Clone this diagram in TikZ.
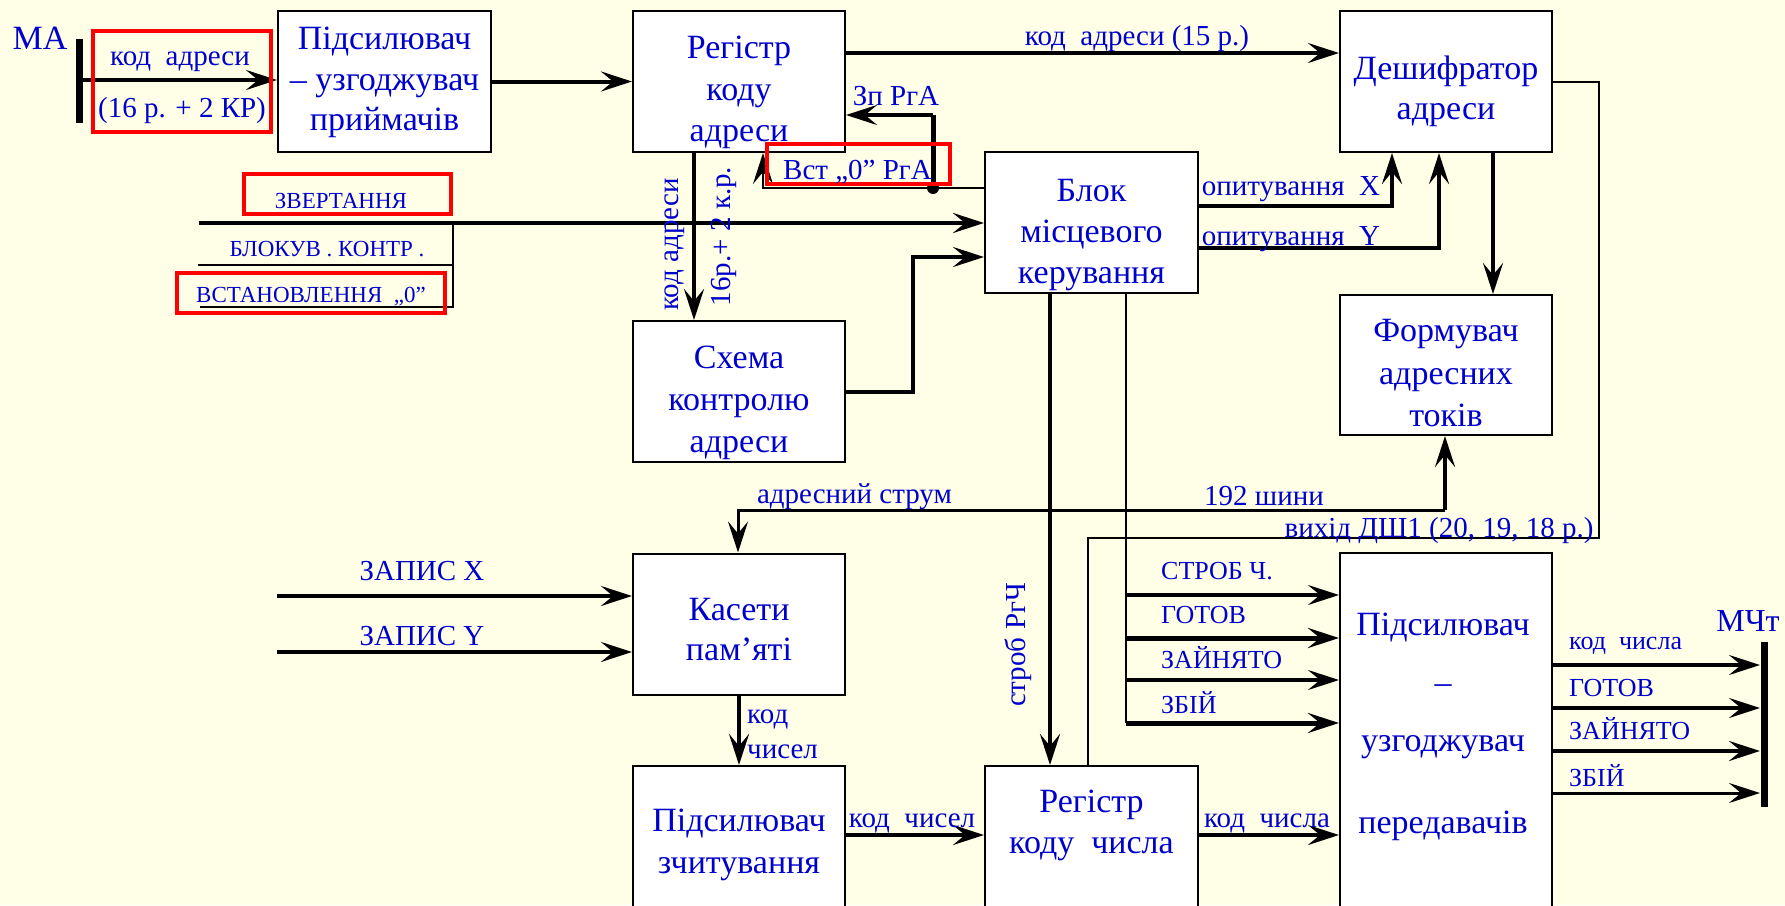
\documentclass[tikz,border=0pt]{standalone}
\usepackage{fontspec}
\setmainfont{Liberation Serif}
\usetikzlibrary{arrows.meta,calc}
\definecolor{bgc}{RGB}{255,255,232}
\definecolor{txc}{RGB}{0,0,204}
\begin{document}
\begin{tikzpicture}[x=1pt,y=-1pt,
  box/.style={draw=black,line width=2pt,fill=white,minimum width=212pt,minimum height=141pt,inner sep=0pt},
  btxt/.style={text=txc,align=center,inner sep=0pt,font=\fontsize{34}{#1}\selectfont,execute at begin node=\strut,execute at end node=\strut},
  btxt/.default=41,
  lbl/.style={text=txc,inner sep=0pt,font=\fontsize{29}{34}\selectfont},
  capl/.style={text=txc,inner sep=0pt,font=\fontsize{26}{30}\selectfont},
  tinyl/.style={text=txc,inner sep=0pt,font=\fontsize{23}{27}\selectfont},
  tip/.style={-{Stealth[length=31pt,width=20pt,inset=12pt]}},
  arr/.style={line width=4pt,tip},
  thk/.style={line width=4pt},
  thn/.style={line width=2pt},
  redbox/.style={draw=red,line width=4pt},
  busbar/.style={line width=7pt},
]
\fill[bgc] (0,0) rectangle (1785,905);
\useasboundingbox (0,0) rectangle (1785,905);
\clip (0,0) rectangle (1785,905);

% ---------- boxes ----------
\node[box,minimum width=213pt] (pr) at (384.5,81.5) {};
\node[box] (rka) at (739,81.5) {};
\node[box] (da) at (1446,81.5) {};
\node[box,minimum width=213pt] (bmk) at (1091.5,222.5) {};
\node[box,minimum height=140pt] (fat) at (1446,365) {};
\node[box] (ska) at (739,391.5) {};
\node[box] (kp) at (739,624) {};
\node[box,minimum height=150pt] (pz) at (739,841) {};
\node[box,minimum width=213pt,minimum height=150pt] (rkc) at (1091.5,841) {};
\node[box,minimum height=360pt] (pp) at (1446,733) {};

% ---------- box texts ----------
\node[btxt=40.5] (prT) at (384.5,85) {Підсилювач\\– узгоджувач\\приймачів};
\node[btxt=41.5] (rkaT) at (739,95) {Регістр\\коду\\адреси};
\node[btxt=39.5] (daT) at (1446,93.5) {Дешифратор\\адреси};
\node[btxt=41] (bmkT) at (1091.5,238) {Блок\\місцевого\\керування};
\node[btxt=42.5] (fatT) at (1446,379.5) {Формувач\\адресних\\токів};
\node[btxt=42] (skaT) at (739,406) {Схема\\контролю\\адреси};
\node[btxt=40.5] (kpT) at (739,635.5) {Касети\\пам’яті};
\node[btxt=42] (pzT) at (739,847.5) {Підсилювач\\зчитування};
\node[btxt=41] (rkcT) at (1091.5,828) {Регістр\\коду~ числа};
\node[btxt=58] (ppT) at (1443,732) {Підсилювач\\–\\узгоджувач\\[24pt]передавачів};

% ---------- coordinates ----------
\coordinate (maT) at (79,39);
\coordinate (maB) at (79,123);
\coordinate (maA) at (79,80);
\coordinate (k15) at (900,53);
\coordinate (zp) at (933,115);
\coordinate (dot) at (933,188);
\coordinate (vst) at (763,188);
\coordinate (zvL) at (199,223);
\coordinate (blL) at (198,265);
\coordinate (blR) at (453,265);
\coordinate (vsL) at (200,307);
\coordinate (vsR) at (453,307);
\coordinate (vsT) at (453,223);
\coordinate (kaX) at (694,200);
\coordinate (sk1) at (913,391.5);
\coordinate (sk2) at (913,257);
\coordinate (opx) at (1392,206);
\coordinate (opy) at (1439,248);
\coordinate (dfX) at (1493,200);
\coordinate (v1) at (1599,81.5);
\coordinate (v2) at (1599,538);
\coordinate (v3) at (1088,538);
\coordinate (as1) at (1445,510);
\coordinate (as2) at (738,510);
\coordinate (sX) at (1050,400);
\coordinate (bT) at (1126,400);
\coordinate (b1) at (1126,595);
\coordinate (b2) at (1126,638);
\coordinate (b3) at (1126,680);
\coordinate (b4) at (1126,723);
\coordinate (zx) at (277,596);
\coordinate (zy) at (277,652);
\coordinate (cn) at (900,835);
\coordinate (mT) at (1764,642);
\coordinate (mB) at (1764,807);
\coordinate (o1) at (1760,665);
\coordinate (o2) at (1760,708);
\coordinate (o3) at (1760,751);
\coordinate (o4) at (1760,793);

% ---------- connectors ----------
\draw[busbar] (maT) -- (maB);
\draw[arr] (maA) -- (maA -| pr.west);
\draw[arr] (pr.east) -- (rka.west);
\draw[arr] (rka.east |- k15) -- (da.west |- k15);
\draw[line width=5pt] (dot) -- (zp);
\draw[arr] (zp) -- (zp -| rka.east);
\draw[line width=2.5pt,tip] (dot) -- (vst) -- (vst |- rka.south);
\draw[thn] (dot) -- (dot -| bmk.west);
\fill (dot) circle[radius=6pt];
\draw[line width=4.5pt,tip] (zvL) -- (zvL -| bmk.west);
\draw[thn] (blL) -- (blR);
\draw[thn] (vsL) -- (vsR) -- (vsT);
\draw[arr] (rka.south -| kaX) -- (ska.north -| kaX);
\draw[arr] (ska.east) -- (sk1) -- (sk2) -- (sk2 -| bmk.west);
\draw[line width=4.5pt,tip] (bmk.east |- opx) -- (opx) -- (opx |- da.south);
\draw[arr] (bmk.east |- opy) -- (opy) -- (opy |- da.south);
\draw[arr] (da.south -| dfX) -- (fat.north -| dfX);
\draw[thn] (da.east) -- (v1) -- (v2) -- (v3) -- (v3 |- rkc.north);
\draw[arr] (as1) -- (as1 |- fat.south);
\draw[line width=3pt,tip] (as1) -- (as2) -- (as2 |- kp.north);
\draw[line width=4.5pt,tip] (bmk.south -| sX) -- (rkc.north -| sX);
\draw[thn] (bmk.south -| bT) -- (b4);
\draw[line width=3.5pt,tip] (b1) -- (b1 -| pp.west);
\draw[line width=5pt,tip] (b2) -- (b2 -| pp.west);
\draw[line width=3.5pt,tip] (b3) -- (b3 -| pp.west);
\draw[line width=5pt,tip] (b4) -- (b4 -| pp.west);
\draw[arr] (zx) -- (zx -| kp.west);
\draw[arr] (zy) -- (zy -| kp.west);
\draw[arr] (kp.south) -- (pz.north);
\draw[arr] (pz.east |- cn) -- (rkc.west |- cn);
\draw[arr] (rkc.east |- cn) -- (pp.west |- cn);
\draw[busbar] (mT) -- (mB);
\draw[line width=3.5pt,tip] (pp.east |- o1) -- (o1);
\draw[line width=3.5pt,tip] (pp.east |- o2) -- (o2);
\draw[line width=4.5pt,tip] (pp.east |- o3) -- (o3);
\draw[line width=3pt,tip] (pp.east |- o4) -- (o4);

% ---------- red frames ----------
\draw[redbox] (93,31) rectangle (271,132);
\draw[redbox] (767,144) rectangle (950,184);
\draw[redbox] (244,174) rectangle (451,214);
\draw[redbox] (177,273) rectangle (445,313);

% ---------- labels ----------
\node[lbl,anchor=base,font=\fontsize{34}{40}\selectfont] (lMA) at (40,49) {МА};
\node[lbl,anchor=base] (lKA1) at (180,65) {код~ адреси};
\node[lbl,anchor=base] (lKA2) at (182,117) {(16 р. + 2 КР)};
\node[lbl,anchor=base] (lK15) at (1137,45) {код~ адреси (15 р.)};
\node[lbl,anchor=base] (lZp) at (896,105) {Зп РгА};
\node[lbl,anchor=base] (lVst) at (857.5,179) {Вст „0” РгА};
\node[lbl,anchor=base,rotate=90] (lKAr) at (678,244.5) {код адреси};
\node[lbl,anchor=base,rotate=90] (lKRr) at (730,236.5) {16р.+ 2 к.р.};
\node[tinyl,anchor=base] (lZv) at (341,208) {ЗВЕРТАННЯ};
\node[tinyl,anchor=base] (lBl) at (327,256) {БЛОКУВ . КОНТР .};
\node[tinyl,anchor=base] (lVs) at (311,302) {ВСТАНОВЛЕННЯ~ „0”};
\node[lbl,anchor=base] (lOX) at (1291,195) {опитування~ X};
\node[lbl,anchor=base] (lOY) at (1291,245) {опитування~ Y};
\node[lbl,anchor=base] (lAS) at (854.5,503) {адресний струм};
\node[lbl,anchor=base] (l192) at (1264,505) {192 шини};
\node[lbl,anchor=base] (lVyh) at (1439,537) {вихід ДШ1 (20, 19, 18 р.)};
\node[lbl,anchor=base] (lZX) at (422,580) {ЗАПИС X};
\node[lbl,anchor=base] (lZY) at (422,645) {ЗАПИС Y};
\node[lbl,anchor=base west] (lKod) at (747,723) {код};
\node[lbl,anchor=base west] (lChys) at (747,758) {чисел};
\node[lbl,anchor=base,rotate=90] (lStr) at (1025,645) {строб РгЧ};
\node[capl,anchor=base west] (lS1) at (1161,579) {СТРОБ Ч.};
\node[capl,anchor=base west] (lS2) at (1161,623) {ГОТОВ};
\node[capl,anchor=base west] (lS3) at (1161,668) {ЗАЙНЯТО};
\node[capl,anchor=base west] (lS4) at (1161,713) {ЗБІЙ};
\node[lbl,anchor=base] (lKC1) at (912,827) {код~ чисел};
\node[lbl,anchor=base] (lKC2) at (1267,827) {код~ числа};
\node[capl,anchor=base west] (lR1) at (1569,649) {код~ числа};
\node[capl,anchor=base west] (lR2) at (1569,696) {ГОТОВ};
\node[capl,anchor=base west] (lR3) at (1569,739) {ЗАЙНЯТО};
\node[capl,anchor=base west] (lR4) at (1569,786) {ЗБІЙ};
\node[lbl,anchor=base,font=\fontsize{32}{38}\selectfont] (lMT) at (1748,631) {МЧт};
\end{tikzpicture}
\end{document}
